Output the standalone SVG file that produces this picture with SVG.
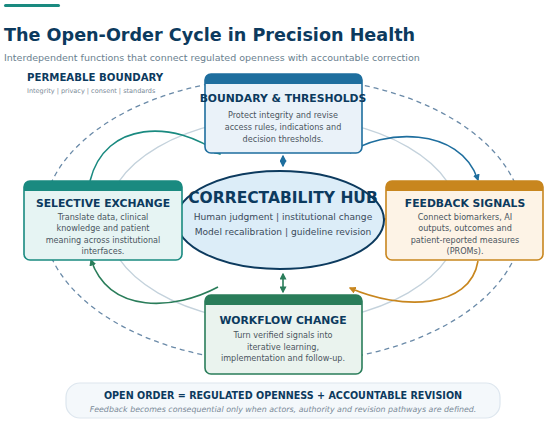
<svg xmlns="http://www.w3.org/2000/svg" width="550" height="423" viewBox="0 0 550 423">
<defs>
<style>
text{font-family:"DejaVu Sans","Liberation Sans",sans-serif}
.ttl{font-weight:bold;fill:#0c3a5e}
.body{font-size:8.1px;fill:#4a5560;text-anchor:middle}
.htitle{font-size:10.8px;font-weight:bold;fill:#0c3a5e;text-anchor:middle}
.conn{fill:none;stroke-width:1.6}
</style>
<marker id="mTeal" viewBox="0 0 10 10" refX="8" refY="5" markerWidth="7" markerHeight="7" orient="auto-start-reverse" markerUnits="userSpaceOnUse"><path d="M0,0 L10,5 L0,10 z" fill="#1a8a80"/></marker>
<marker id="mBlue" viewBox="0 0 10 10" refX="8" refY="5" markerWidth="7" markerHeight="7" orient="auto-start-reverse" markerUnits="userSpaceOnUse"><path d="M0,0 L10,5 L0,10 z" fill="#1e6e9e"/></marker>
<marker id="mOrange" viewBox="0 0 10 10" refX="8" refY="5" markerWidth="7" markerHeight="7" orient="auto-start-reverse" markerUnits="userSpaceOnUse"><path d="M0,0 L10,5 L0,10 z" fill="#c8861e"/></marker>
<marker id="mGreen" viewBox="0 0 10 10" refX="8" refY="5" markerWidth="7" markerHeight="7" orient="auto-start-reverse" markerUnits="userSpaceOnUse"><path d="M0,0 L10,5 L0,10 z" fill="#2a7d5a"/></marker>
</defs>
<rect width="550" height="423" fill="#ffffff"/>
<rect x="4" y="4" width="56" height="3" rx="1.5" fill="#1a8a80"/>
<text class="ttl" x="4" y="41" font-size="17.6">The Open-Order Cycle in Precision Health</text>
<text x="4" y="61" font-size="9.5" fill="#6a7f8f">Interdependent functions that connect regulated openness with accountable correction</text>
<text class="ttl" x="27" y="81" font-size="10.2">PERMEABLE BOUNDARY</text>
<text x="27" y="93" font-size="6.5" fill="#7a8a98">Integrity | privacy | consent | standards</text>

<g id="rings">
<ellipse cx="283" cy="220" rx="240" ry="143" fill="none" stroke="#6a8aa8" stroke-width="1.3" stroke-dasharray="5,4"/>
<ellipse cx="283" cy="220" rx="177" ry="103" fill="none" stroke="#c4d2dc" stroke-width="1.3"/>
</g>

<g id="connectors">
<path class="conn" stroke="#1a8a80" d="M90,181 C105,120 175,120 220,154" marker-end="url(#mTeal)"/>
<path class="conn" stroke="#1e6e9e" d="M350,153 C380,130 460,125 478,180" marker-end="url(#mBlue)"/>
<path class="conn" stroke="#c8861e" d="M478,261 C470,310 400,310 350,288" marker-end="url(#mOrange)"/>
<path class="conn" stroke="#2a7d5a" d="M218,287 C175,310 110,315 91,260" marker-end="url(#mGreen)"/>
<line x1="172" y1="220" x2="190" y2="220" stroke="#1a8a80" stroke-width="1.6" marker-start="url(#mTeal)" marker-end="url(#mTeal)"/>
<line x1="378" y1="219" x2="392" y2="219" stroke="#c8861e" stroke-width="1.6" marker-start="url(#mOrange)" marker-end="url(#mOrange)"/>
<line x1="283" y1="156" x2="283" y2="166" stroke="#1e6e9e" stroke-width="1.6" marker-start="url(#mBlue)" marker-end="url(#mBlue)"/>
<line x1="283" y1="274" x2="283" y2="292" stroke="#2a7d5a" stroke-width="1.6" marker-start="url(#mGreen)" marker-end="url(#mGreen)"/>
</g>

<g id="hub">
<ellipse cx="280" cy="220" rx="104" ry="49" fill="#dcedf8" stroke="#0c3a5e" stroke-width="2"/>
<text class="ttl" x="283" y="203" font-size="15.5" text-anchor="middle">CORRECTABILITY HUB</text>
<text x="283" y="220" font-size="9.1" fill="#3a4a5a" text-anchor="middle">Human judgment  |  institutional change</text>
<text x="283" y="235" font-size="9.1" fill="#3a4a5a" text-anchor="middle">Model recalibration  |  guideline revision</text>
</g>

<g id="boundary">
<rect x="205" y="74" width="157" height="79" rx="6" fill="#eaf2f9" stroke="#1e6e9e" stroke-width="1.6"/>
<path d="M205,84 V80 a6,6 0 0 1 6,-6 H356 a6,6 0 0 1 6,6 V84 z" fill="#1e6e9e"/>
<text class="htitle" x="283" y="102">BOUNDARY &amp; THRESHOLDS</text>
<text class="body" x="283" y="118">Protect integrity and revise</text>
<text class="body" x="283" y="130">access rules, indications and</text>
<text class="body" x="283" y="142">decision thresholds.</text>
</g>

<g id="exchange">
<rect x="24" y="181" width="158" height="79" rx="6" fill="#e6f4f3" stroke="#1a8a80" stroke-width="1.6"/>
<path d="M24,191 V187 a6,6 0 0 1 6,-6 H176 a6,6 0 0 1 6,6 V191 z" fill="#1a8a80"/>
<text class="htitle" x="103" y="207">SELECTIVE EXCHANGE</text>
<text class="body" x="103" y="219.5">Translate data, clinical</text>
<text class="body" x="103" y="231">knowledge and patient</text>
<text class="body" x="103" y="242.5">meaning across institutional</text>
<text class="body" x="103" y="254">interfaces.</text>
</g>

<g id="feedback">
<rect x="386" y="181" width="157" height="79" rx="6" fill="#fdf3e6" stroke="#c8861e" stroke-width="1.6"/>
<path d="M386,191 V187 a6,6 0 0 1 6,-6 H537 a6,6 0 0 1 6,6 V191 z" fill="#c8861e"/>
<text class="htitle" x="465" y="207">FEEDBACK SIGNALS</text>
<text class="body" x="465" y="219.5">Connect biomarkers, AI</text>
<text class="body" x="465" y="231">outputs, outcomes and</text>
<text class="body" x="465" y="242.5">patient-reported measures</text>
<text class="body" x="465" y="254">(PROMs).</text>
</g>

<g id="workflow">
<rect x="205" y="295" width="157" height="79" rx="6" fill="#eaf3ee" stroke="#2a7d5a" stroke-width="1.6"/>
<path d="M205,305 V301 a6,6 0 0 1 6,-6 H356 a6,6 0 0 1 6,6 V305 z" fill="#2a7d5a"/>
<text class="htitle" x="283" y="324">WORKFLOW CHANGE</text>
<text class="body" x="283" y="338">Turn verified signals into</text>
<text class="body" x="283" y="350">iterative learning,</text>
<text class="body" x="283" y="361">implementation and follow-up.</text>
</g>

<g id="banner">
<rect x="66" y="383" width="434" height="35" rx="14" fill="#f4f8fb" stroke="#dde6ee" stroke-width="1.2"/>
<text class="ttl" x="283" y="399" font-size="9.6" text-anchor="middle">OPEN ORDER = REGULATED OPENNESS + ACCOUNTABLE REVISION</text>
<text x="283" y="412" font-size="7.9" font-style="italic" fill="#7a8a98" text-anchor="middle">Feedback becomes consequential only when actors, authority and revision pathways are defined.</text>
</g>
</svg>
